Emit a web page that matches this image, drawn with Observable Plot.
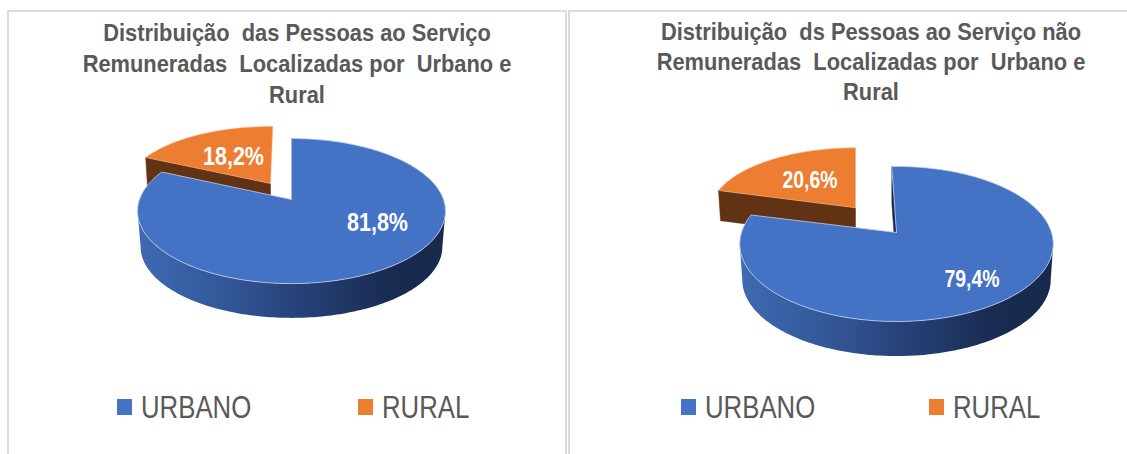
<!DOCTYPE html>
<html>
<head>
<meta charset="utf-8">
<script src="https://cdn.jsdelivr.net/npm/d3@7"></script>
<script src="https://cdn.jsdelivr.net/npm/@observablehq/plot@0.6"></script>
<style>
  html, body { margin: 0; padding: 0; background: #fff; }
  #page { position: relative; width: 1127px; height: 454px; overflow: hidden; font-family: "Liberation Sans", Arial, sans-serif; }
  #page svg { position: absolute; left: 0; top: 0; }
  .rule { position: absolute; background: #dcdcdc; }
  .title { position: absolute; white-space: pre; color: #595959; font-weight: 700; font-size: 24.5px; line-height: 30px; transform: translate(-50%, -50%) scaleX(.892); }
  .swatch { position: absolute; width: 15px; height: 16px; }
  .legend { position: absolute; white-space: pre; color: #595959; font-size: 32px; line-height: 32px; transform-origin: left center; transform: scaleX(.805); }
</style>
</head>
<body>
<div id="page"></div>
<script>
// --- data ---
const categories = ["URBANO", "RURAL"];
const sharesPaid = [81.8, 18.2];
const sharesUnpaid = [79.4, 20.6];
const titlePaid = ["Distribuição  das Pessoas ao Serviço", "Remuneradas  Localizadas por  Urbano e", "Rural"];
const titleUnpaid = ["Distribuição  ds Pessoas ao Serviço não", "Remuneradas  Localizadas por  Urbano e", "Rural"];
const colors = ["#4472C4", "#ED7D31"];

// --- layout of the two panels ---
const panels = [
  {
    shares: sharesPaid, title: titlePaid, titleX: 297, titleY: [33.3, 64, 95],
    legend: [[117, 141], [358, 382]],
    labelSize: 25.5, labelWidth: 61,
    main: {x: 291, y: 199, A: 152, B: 70.7, k: 0.159, rot: 0, depth: 36, s: 0.98},
    out: {x: 270, y: 183, A: 145, B: 63.4, k: 0.113, rot: 1, depth: 30, s: 0.985},
    labels: [{x: 86, y: 23}, {x: -37, y: -27}]
  },
  {
    shares: sharesUnpaid, title: titleUnpaid, titleX: 871, titleY: [31.7, 62.3, 92],
    legend: [[681, 704.5], [929, 952.5]],
    labelSize: 23, labelWidth: 55,
    main: {x: 896, y: 232, A: 155, B: 75.8, k: 0.148, rot: -2, depth: 36, s: 0.984},
    out: {x: 855, y: 207.3, A: 145.5, B: 64.7, k: 0.079, rot: 0, depth: 30, s: 0.985},
    labels: [{x: 75.5, y: 47}, {x: -45.5, y: -27}]
  }
];

const rad = Math.PI / 180;
// a point of the tilted circle seen in perspective; deg runs clockwise from 12 o'clock
function project(p, deg, scale = 1, dy = 0) {
  const a = (deg + p.rot) * rad, u = Math.sin(a), v = -Math.cos(a), w = 1 - p.k * v;
  return {x: p.x + scale * p.A * u / w, y: p.y + dy + scale * p.B * v / w};
}
function arc(p, from, to, scale = 1, dy = 0) {
  const n = Math.max(2, Math.ceil(Math.abs(to - from))), out = [];
  for (let i = 0; i <= n; i++) out.push(project(p, from + (to - from) * i / n, scale, dy));
  return out;
}
function sector(p, from, to) {
  const tip = {x: p.x, y: p.y};
  return [tip, ...arc(p, from, to), tip];
}
function rim(p) { // the visible curved wall, between the two silhouette points
  const r = Math.acos(-p.k) / rad - p.rot, l = 360 - Math.acos(-p.k) / rad - p.rot;
  return [...arc(p, r, l), ...arc(p, l, r, p.s, p.depth)];
}
function wall(p, deg) { // a flat cut wall from the rim to the centre
  const a = project(p, deg), b = project(p, deg, p.s, p.depth);
  return [a, {x: p.x, y: p.y}, {x: p.x, y: p.y + p.depth}, b, a];
}

const poly = (pts, o) => Plot.line(pts, {x: "x", y: "y", ...o});
const marks = [];
const labelRows = [];
for (const P of panels) {
  const mainEnd = P.shares[0] * 3.6;
  // exploded slice first, it sits behind the main one
  marks.push(poly(wall(P.out, mainEnd), {fill: "#613214", stroke: "#613214", strokeWidth: 0.5}));
  marks.push(poly(sector(P.out, mainEnd, 360), {fill: colors[1], stroke: "#f4b183", strokeWidth: 0.6}));
  marks.push(poly(wall(P.main, 0), {fill: "#16284b", stroke: "#16284b", strokeWidth: 0.5}));
  marks.push(poly(rim(P.main), {fill: "url(#side)", stroke: "none"}));
  marks.push(poly(sector(P.main, 0, mainEnd), {fill: colors[0], stroke: "#c3d0ea", strokeWidth: 0.8}));
  labelRows.push({x: P.main.x + P.labels[0].x, y: P.main.y + P.labels[0].y, v: P.shares[0], size: P.labelSize, w: P.labelWidth});
  labelRows.push({x: P.out.x + P.labels[1].x, y: P.out.y + P.labels[1].y, v: P.shares[1], size: P.labelSize, w: P.labelWidth});
}
marks.push(Plot.text(labelRows, {
  x: "x", y: "y",
  text: d => d.v.toFixed(1).replace(".", ",") + "%",
  fill: "#fff", fontWeight: 700, fontSize: "size", fontFamily: "Liberation Sans"
}));

const svg = Plot.plot({
  width: 1127, height: 454, margin: 0,
  x: {domain: [0, 1127], range: [0, 1127], axis: null},
  y: {domain: [0, 454], range: [0, 454], axis: null},
  style: {background: "transparent"},
  marks
});
svg.insertAdjacentHTML("afterbegin",
  `<defs><linearGradient id="side" x1="0" x2="1" y1="0" y2="0">
     <stop offset="0" stop-color="#3f69b2"/><stop offset=".25" stop-color="#345a9c"/>
     <stop offset=".55" stop-color="#263f75"/><stop offset=".82" stop-color="#182b50"/>
     <stop offset="1" stop-color="#182a4c"/></linearGradient></defs>`);
d3.select(svg).selectAll("text").each(function (_, i) {
  this.setAttribute("lengthAdjust", "spacingAndGlyphs");
  this.setAttribute("textLength", labelRows[i].w);
});

const page = document.getElementById("page");
page.appendChild(svg);
const add = (cls, css, text) => {
  const d = document.createElement("div");
  d.className = cls; d.style.cssText = css;
  if (text) d.textContent = text;
  page.appendChild(d);
};
// panel frames
add("rule", "left:7px;top:10px;width:2px;height:444px");
add("rule", "left:7px;top:10px;width:559px;height:2px");
add("rule", "left:565px;top:10px;width:2px;height:444px");
add("rule", "left:568px;top:10px;width:2px;height:444px");
add("rule", "left:568px;top:10px;width:559px;height:2px");

for (const P of panels) {
  P.title.forEach((line, i) => add("title", `left:${P.titleX}px;top:${P.titleY[i]}px`, line));
  categories.forEach((c, i) => {
    add("swatch", `left:${P.legend[i][0]}px;top:399px;background:${colors[i]}`);
    add("legend", `left:${P.legend[i][1]}px;top:390.5px`, c);
  });
}
</script>
</body>
</html>
